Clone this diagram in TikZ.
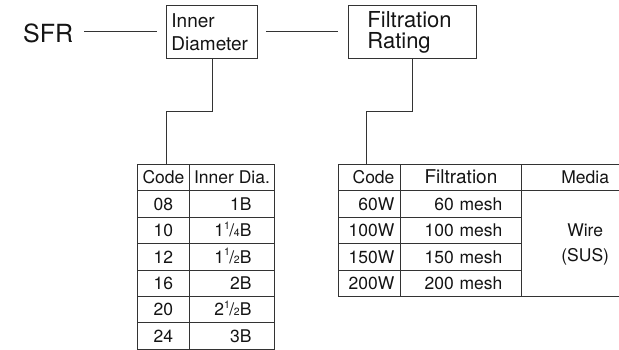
\documentclass[tikz,border=0pt]{standalone}
\usepackage{fontspec}
\setmainfont{TeX Gyre Heros}
\definecolor{linec}{HTML}{333333}
\definecolor{textc}{HTML}{141414}
\newcommand{\tabfont}{\fontsize{17.5}{25}\selectfont}
\newcommand{\mixfr}[3]{#1\raisebox{0.42em}{\fontsize{10.5}{10.5}\selectfont #2}\kern-0.4pt/\kern-0.4pt{\fontsize{10.5}{10.5}\selectfont #3}}
\begin{document}
\begin{tikzpicture}[x=1pt,y=-1pt,
  conn/.style={draw=linec, line width=0.9pt},
  hbox/.style={draw=linec, line width=0.9pt, text=textc, align=left, inner ysep=0pt, anchor=north west, minimum height=53pt},
  cell/.style={draw=linec, line width=0.9pt, text=textc, inner sep=0pt, anchor=north west,
               minimum height=26.4pt, font=\tabfont, text height=12.5pt, text depth=0pt},
  ccell/.style={cell, minimum width=#1},
  rcell/.style n args={2}{cell, inner xsep=#1, text width=#2, align=right},
  mcell/.style={draw=linec, line width=0.9pt, text=textc, inner sep=0pt, anchor=north west,
               minimum width=97.5pt, minimum height=105.6pt, font=\tabfont}
]
\useasboundingbox (0,0) rectangle (619,350);

% header row
\node[anchor=base west, inner sep=0pt, font=\fontsize{25}{25}\selectfont, text=textc] (sfr) at (23,43) {SFR};
\node[hbox, inner xsep=5pt, text width=81pt, font=\fontsize{19}{23}\selectfont] (inner) at (166,5) {Inner\\Diameter};
\node[hbox, inner xsep=19pt, text width=90pt, font=\fontsize{22}{21}\selectfont] (filt) at (348,5) {Filtration\\Rating};

% table 1
\node[ccell=52pt] (t1h1) at (137,164) {Code};
\node[ccell=85pt] (t1h2) at (189,164) {Inner Dia.};
\node[ccell=52pt] (t1a1) at (137,190.4) {08};
\node[rcell={23pt}{39pt}] (t1a2) at (189,190.4) {1B};
\node[ccell=52pt] (t1b1) at (137,216.8) {10};
\node[rcell={23pt}{39pt}] (t1b2) at (189,216.8) {\mixfr{1}{1}{4}B};
\node[ccell=52pt] (t1c1) at (137,243.2) {12};
\node[rcell={23pt}{39pt}] (t1c2) at (189,243.2) {\mixfr{1}{1}{2}B};
\node[ccell=52pt] (t1d1) at (137,269.6) {16};
\node[rcell={23pt}{39pt}] (t1d2) at (189,269.6) {2B};
\node[ccell=52pt] (t1e1) at (137,296) {20};
\node[rcell={23pt}{39pt}] (t1e2) at (189,296) {\mixfr{2}{1}{2}B};
\node[ccell=52pt] (t1f1) at (137,322.4) {24};
\node[rcell={23pt}{39pt}] (t1f2) at (189,322.4) {3B};

% table 2
\node[rcell={6pt}{50pt}] (t2h1) at (338,164) {Code};
\node[ccell=121pt, font=\fontsize{19}{25}\selectfont] (t2h2) at (400,164) {Filtration};
\node[ccell=97.5pt] (t2h3) at (521,164) {\hspace*{30pt}Media};
\node[rcell={6pt}{50pt}] (t2a1) at (338,190.4) {60W};
\node[rcell={19pt}{83pt}] (t2a2) at (400,190.4) {60 mesh};
\node[rcell={6pt}{50pt}] (t2b1) at (338,216.8) {100W};
\node[rcell={19pt}{83pt}] (t2b2) at (400,216.8) {100 mesh};
\node[rcell={6pt}{50pt}] (t2c1) at (338,243.2) {150W};
\node[rcell={19pt}{83pt}] (t2c2) at (400,243.2) {150 mesh};
\node[rcell={6pt}{50pt}] (t2d1) at (338,269.6) {200W};
\node[rcell={19pt}{83pt}] (t2d2) at (400,269.6) {200 mesh};
\node[mcell] (t2m) at (521,190.4) {\hspace*{30pt}\begin{tabular}{@{}c@{}}Wire\\(SUS)\end{tabular}};

% connectors
\coordinate (j1) at (166,111);
\coordinate (j2) at (366,111);
\draw[conn, shorten <=11pt, shorten >=9pt] (sfr.east |- inner.west) -- (inner.west);
\draw[conn, shorten <=8pt, shorten >=10pt] (inner.east) -- (filt.west);
\draw[conn] (inner.south) |- (j1) -- (j1 |- t1h1.north);
\draw[conn] (filt.south) |- (j2) -- (j2 |- t2h1.north);
\end{tikzpicture}
\end{document}
